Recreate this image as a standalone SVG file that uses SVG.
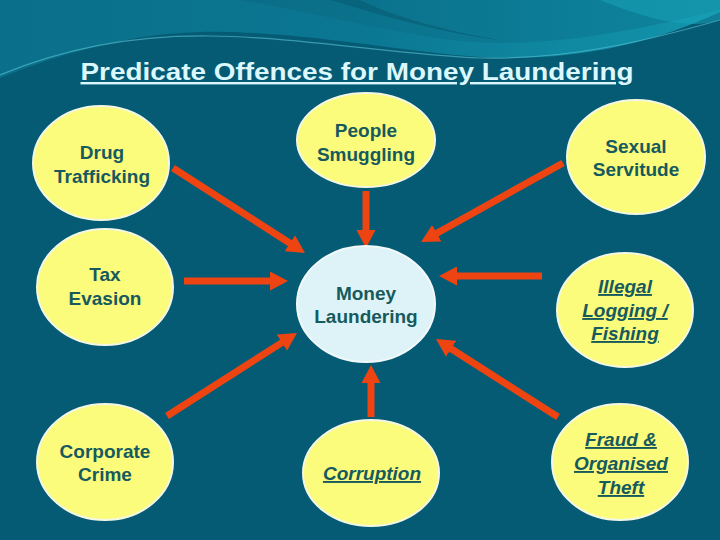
<svg xmlns="http://www.w3.org/2000/svg" width="720" height="540" viewBox="0 0 720 540">
<defs>
<linearGradient id="top" x1="0" y1="0" x2="1" y2="0">
<stop offset="0" stop-color="#0A6F8A"/>
<stop offset="0.5" stop-color="#0B7792"/>
<stop offset="1" stop-color="#1395AD"/>
</linearGradient>
<linearGradient id="swoosh" x1="0" y1="0" x2="1" y2="0">
<stop offset="0" stop-color="#0A6A84"/>
<stop offset="1" stop-color="#0C7F98"/>
</linearGradient>
<marker id="ah" markerUnits="userSpaceOnUse" markerWidth="19" markerHeight="19" refX="1" refY="9.5" orient="auto" viewBox="0 0 19 19">
<path d="M0,0 L18,9.5 L0,19 Z" fill="#EE4412"/>
</marker>
<style>
.n{fill:#FBFB7C;stroke:#F2F7E6;stroke-width:2}
.c{fill:#DDF3F8;stroke:#F2F9FA;stroke-width:2}
.t{font-family:"Liberation Sans",Arial,sans-serif;font-weight:bold;font-size:19px;fill:#165A5E;text-anchor:middle}
.i{font-style:italic;text-decoration:underline}
.a{stroke:#EE4412;stroke-width:7;fill:none;marker-end:url(#ah)}
</style>
</defs>
<rect width="720" height="540" fill="#065B74"/>
<path d="M0,0 H720 V12 C650,45 570,62 480,57 C400,52 300,30 200,32 C120,34 50,58 0,78 Z" fill="url(#top)"/>
<path d="M240,0 C300,10 380,30 450,40 C520,48 600,40 720,10 V0 Z" fill="url(#swoosh)" opacity="0.7"/>
<path d="M330,0 C380,15 450,35 500,40 C440,30 390,15 360,0 Z" fill="#075B72" opacity="0.6"/>
<path d="M0,75 C60,50 130,35 210,36 C300,37 400,55 480,58 C570,60 650,40 720,20" fill="none" stroke="#5CC4D6" stroke-width="1.2" opacity="0.6"/>
<path d="M600,0 C650,0 700,0 720,0 V20 C690,30 650,20 600,0 Z" fill="#1AA5BC" opacity="0.5"/>
<text x="357" y="80" font-family="'Liberation Sans',Arial,sans-serif" font-weight="bold" font-size="24" fill="#DCF8FF" text-anchor="middle" text-decoration="underline" textLength="553" lengthAdjust="spacingAndGlyphs">Predicate Offences for Money Laundering</text>
<g id="connectors">
<line class="a" x1="173" y1="168" x2="290.7" y2="243.8"/>
<line class="a" x1="184" y1="281" x2="271" y2="281"/>
<line class="a" x1="366" y1="191" x2="366" y2="231"/>
<line class="a" x1="563" y1="163" x2="435.9" y2="233.7"/>
<line class="a" x1="542" y1="276" x2="456" y2="276"/>
<line class="a" x1="167" y1="416" x2="282.7" y2="342.1"/>
<line class="a" x1="371" y1="417" x2="371" y2="382"/>
<line class="a" x1="558" y1="417" x2="450.3" y2="348.2"/>
</g>
<g id="drug"><ellipse class="n" cx="101" cy="163" rx="68" ry="57"/><text class="t" x="102" y="159">Drug</text><text class="t" x="102" y="183">Trafficking</text></g>
<g id="tax"><ellipse class="n" cx="105" cy="287" rx="68" ry="58"/><text class="t" x="105" y="281">Tax</text><text class="t" x="105" y="305">Evasion</text></g>
<g id="corporate"><ellipse class="n" cx="105" cy="462" rx="68" ry="58"/><text class="t" x="105" y="458">Corporate</text><text class="t" x="105" y="481">Crime</text></g>
<g id="people"><ellipse class="n" cx="366" cy="140" rx="69" ry="47"/><text class="t" x="366" y="137">People</text><text class="t" x="366" y="161">Smuggling</text></g>
<g id="money"><ellipse class="c" cx="366" cy="304" rx="69" ry="58"/><text class="t" x="366" y="300">Money</text><text class="t" x="366" y="323">Laundering</text></g>
<g id="corruption"><ellipse class="n" cx="371" cy="473" rx="68" ry="53"/><text class="t i" x="372" y="480">Corruption</text></g>
<g id="sexual"><ellipse class="n" cx="636" cy="157" rx="69" ry="57"/><text class="t" x="636" y="153">Sexual</text><text class="t" x="636" y="176">Servitude</text></g>
<g id="illegal"><ellipse class="n" cx="625" cy="310" rx="68" ry="57"/><text class="t i" x="625" y="293">Illegal</text><text class="t i" x="625" y="317">Logging /</text><text class="t i" x="625" y="340">Fishing</text></g>
<g id="fraud"><ellipse class="n" cx="620" cy="462" rx="68" ry="58"/><text class="t i" x="621" y="446">Fraud &amp;</text><text class="t i" x="621" y="470">Organised</text><text class="t i" x="621" y="494">Theft</text></g>
</svg>
